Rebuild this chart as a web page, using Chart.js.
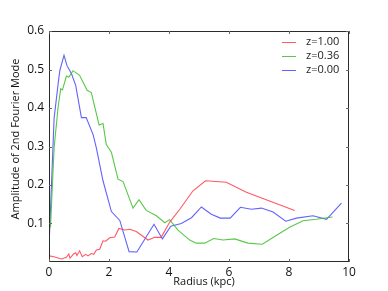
<!DOCTYPE html>
<html>
<head>
<meta charset="utf-8">
<script src="https://cdn.jsdelivr.net/npm/chart.js@4/dist/chart.umd.min.js"></script>
<style>
  html, body { margin: 0; padding: 0; background: #fff; }
  #wrap { width: 388px; height: 291px; }
</style>
</head>
<body>
<div id="wrap"><canvas id="c" width="388" height="291"></canvas></div>
<script>
// 2nd Fourier mode amplitude vs radius, three redshifts

const LABELS = ["z=1.00", "z=0.36", "z=0.00"];
const COLORS = ["rgba(255,60,70,0.85)", "rgba(60,190,40,0.85)", "rgba(70,70,255,0.85)"];

const redR = [0.02,0.19,0.41,0.58,0.66,0.70,0.82,0.89,0.93,1.02,1.11,1.22,1.30,1.41,1.49,1.58,1.69,1.80,1.89,2.02,2.19,2.33,2.52,2.69,2.91,3.30,3.52,3.74,4.02,4.36,4.80,5.22,5.91,6.58,8.19];
const redA = [0.016,0.013,0.008,0.012,0.021,0.010,0.021,0.024,0.017,0.029,0.014,0.020,0.016,0.022,0.020,0.031,0.033,0.055,0.054,0.063,0.065,0.087,0.083,0.085,0.079,0.057,0.064,0.064,0.103,0.137,0.185,0.211,0.207,0.181,0.134];

const greenR = [0.05,0.17,0.30,0.39,0.45,0.58,0.66,0.80,1.02,1.27,1.41,1.67,1.80,1.91,2.08,2.30,2.47,2.80,3.00,3.24,3.58,3.86,4.02,4.30,4.69,4.91,5.19,5.49,5.80,6.19,6.63,7.11,7.52,8.02,8.47,8.91,9.45];
const greenA = [0.09,0.296,0.40,0.45,0.447,0.483,0.48,0.497,0.485,0.446,0.44,0.356,0.36,0.305,0.285,0.215,0.209,0.14,0.162,0.134,0.12,0.102,0.11,0.083,0.057,0.049,0.049,0.061,0.057,0.060,0.049,0.046,0.066,0.090,0.107,0.111,0.117];

const blueR = [0.0,0.17,0.30,0.36,0.50,0.60,0.75,0.89,1.08,1.24,1.47,1.58,1.80,2.08,2.36,2.67,2.93,3.50,3.78,4.06,4.41,4.75,5.08,5.41,5.71,6.04,6.38,6.75,7.08,7.47,7.89,8.25,8.80,9.25,9.75];
const blueA = [0.038,0.373,0.46,0.497,0.537,0.51,0.489,0.459,0.375,0.375,0.331,0.296,0.211,0.131,0.108,0.027,0.026,0.098,0.060,0.093,0.100,0.115,0.143,0.124,0.114,0.114,0.142,0.137,0.140,0.130,0.106,0.114,0.120,0.111,0.153];

const X_TICKS = [0, 2, 4, 6, 8, 10];
const Y_TICKS = [0.1, 0.2, 0.3, 0.4, 0.5, 0.6];
const X_TITLE = "Radius (kpc)";
const Y_TITLE = "Amplitude of 2nd Fourier Mode";

const FONT = "'Open Sans', 'DejaVu Sans', sans-serif";

function pts(rs, as) { return rs.map((r, i) => ({ x: r, y: as[i] })); }

// frame, inward ticks on all four sides, axis titles, legend in the upper right
const frame = {
  id: "frame",
  afterDraw(chart) {
    const { ctx, chartArea: a, scales } = chart;
    ctx.save();
    ctx.strokeStyle = "#2b2b2b";
    ctx.lineWidth = 1;
    ctx.strokeRect(a.left + 0.5, a.top + 0.5, a.right - a.left - 1, a.bottom - a.top - 1);
    ctx.strokeStyle = "#666";
    ctx.beginPath();
    X_TICKS.forEach(v => {
      const x = Math.round(scales.x.getPixelForValue(v)) + 0.5;
      ctx.moveTo(x, a.bottom); ctx.lineTo(x, a.bottom - 3);
      ctx.moveTo(x, a.top); ctx.lineTo(x, a.top + 3);
    });
    Y_TICKS.forEach(v => {
      const y = Math.round(scales.y.getPixelForValue(v)) + 0.5;
      ctx.moveTo(a.left, y); ctx.lineTo(a.left + 3, y);
      ctx.moveTo(a.right, y); ctx.lineTo(a.right - 3, y);
    });
    ctx.stroke();

    ctx.fillStyle = "#111";
    ctx.textAlign = "center";
    ctx.textBaseline = "middle";
    ctx.font = "11px " + FONT;
    ctx.fillText(X_TITLE, 204, 282);
    ctx.save();
    ctx.translate(16, 139);
    ctx.rotate(-Math.PI / 2);
    ctx.fillText(Y_TITLE, 0, 0);
    ctx.restore();

    ctx.textAlign = "left";
    ctx.fillStyle = "#222";
    LABELS.forEach((lab, i) => {
      const y = 42 + i * 14;
      ctx.strokeStyle = COLORS[i];
      ctx.beginPath(); ctx.moveTo(282, y + 0.5); ctx.lineTo(296, y + 0.5); ctx.stroke();
      ctx.fillText(lab, 306, y);
    });
    ctx.restore();
  }
};

new Chart(document.getElementById("c"), {
  type: "line",
  data: {
    datasets: [
      { label: LABELS[0], data: pts(redR, redA), borderColor: COLORS[0] },
      { label: LABELS[1], data: pts(greenR, greenA), borderColor: COLORS[1] },
      { label: LABELS[2], data: pts(blueR, blueA), borderColor: COLORS[2] },
    ].map(d => ({ ...d, borderWidth: 1.1, pointRadius: 0, fill: false, tension: 0 })),
  },
  options: {
    responsive: false, animation: false,
    layout: { padding: { top: 31, right: 39, left: 0, bottom: 0 } },
    plugins: { legend: { display: false }, tooltip: { enabled: false } },
    scales: {
      x: {
        type: "linear", min: 0, max: 10,
        afterFit: s => { s.height = 29; },
        afterBuildTicks: s => { s.ticks = X_TICKS.map(v => ({ value: v })); },
        grid: { display: false, drawTicks: false },
        border: { display: false },
        ticks: { color: "#111", padding: 3, font: { family: FONT, size: 12 } },
      },
      y: {
        min: 0, max: 0.6,
        afterFit: s => { s.width = 49; },
        afterBuildTicks: s => { s.ticks = Y_TICKS.map(v => ({ value: v })); },
        grid: { display: false, drawTicks: false },
        border: { display: false },
        ticks: { color: "#111", padding: 5, font: { family: FONT, size: 12 }, callback: v => v.toFixed(1) },
      },
    },
  },
  plugins: [frame],
});
</script>
</body>
</html>
